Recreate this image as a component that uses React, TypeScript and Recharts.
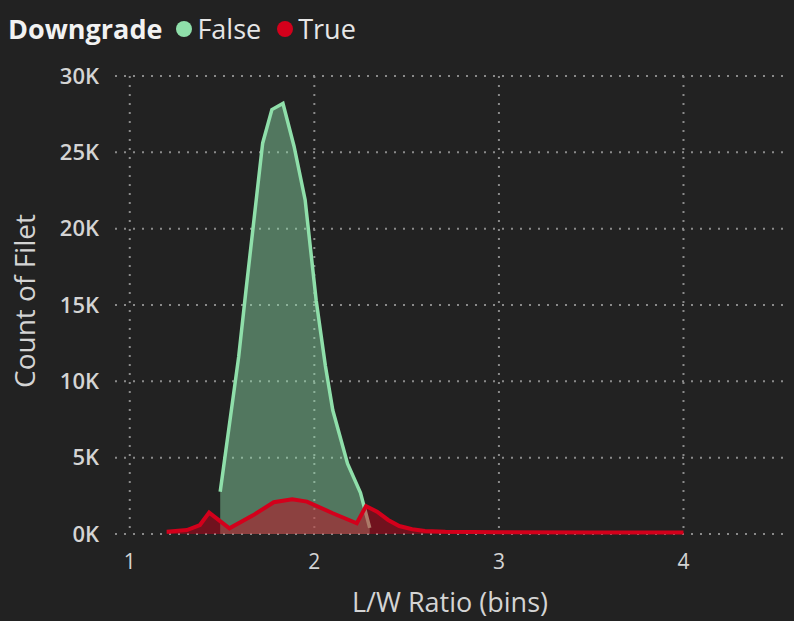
import React from "react";
import { AreaChart, Area, XAxis, YAxis, CartesianGrid } from "recharts";

// L/W ratio bins and counts
const falseX = [1.49, 1.59, 1.63, 1.72, 1.77, 1.83, 1.89, 1.95, 2.01, 2.06, 2.1, 2.18, 2.25, 2.3];
const falseY = [2770, 11600, 16000, 25600, 27800, 28200, 25400, 21900, 15300, 11000, 8100, 4600, 2700, 400];

const trueX = [1.2, 1.31, 1.38, 1.43, 1.54, 1.67, 1.78, 1.88, 1.96, 2.1, 2.23, 2.28, 2.34, 2.4, 2.46, 2.53, 2.6, 2.71, 3.0, 3.5, 4.0];
const trueY = [150, 260, 590, 1400, 370, 1240, 2080, 2270, 2120, 1360, 700, 1830, 1460, 920, 520, 310, 200, 140, 110, 100, 100];

const xTicks = [1, 2, 3, 4];
const yTicks = [0, 5000, 10000, 15000, 20000, 25000, 30000];
const xDomain = [0.92, 4.55];

const GREEN = "#8fdfaa";
const RED = "#d3001b";
const FONT = "'Segoe UI', 'Open Sans', sans-serif";

type Row = { x: number; f?: number; t?: number };

const buildRows = (): Row[] => {
  const map = new Map<number, Row>();
  falseX.forEach((x, i) => {
    const r = map.get(x) || { x };
    r.f = falseY[i];
    map.set(x, r);
  });
  trueX.forEach((x, i) => {
    const r = map.get(x) || { x };
    r.t = trueY[i];
    map.set(x, r);
  });
  return Array.from(map.values()).sort((a, b) => a.x - b.x);
};

const rows = buildRows();

const LegendBar = () => (
  <div
    style={{
      position: "absolute",
      left: 8,
      top: 10,
      display: "flex",
      alignItems: "center",
      fontFamily: FONT,
      fontSize: 27,
      color: "#e6e6e6",
      whiteSpace: "nowrap",
    }}
  >
    <span style={{ fontWeight: 700, color: "#f2f2f2", marginRight: 14 }}>Downgrade</span>
    <span style={{ width: 16, height: 16, borderRadius: 8, background: GREEN, marginRight: 5 }} />
    <span style={{ marginRight: 16 }}>False</span>
    <span style={{ width: 16, height: 16, borderRadius: 8, background: RED, marginRight: 5 }} />
    <span>True</span>
  </div>
);

// vertical grid only at the x ticks, not at the plot edges
const vGrid = ({ offset }: any) =>
  xTicks.map(
    (t) => offset.left + ((t - xDomain[0]) / (xDomain[1] - xDomain[0])) * offset.width
  );

export default function App() {
  return (
    <div
      style={{
        position: "absolute",
        left: 0,
        top: 0,
        width: 794,
        height: 621,
        background: "#222222",
      }}
    >
      <LegendBar />
      <AreaChart
        width={794}
        height={621}
        data={rows}
        margin={{ top: 76, right: 9, bottom: 0, left: 0 }}
      >
        <CartesianGrid
          stroke="#8a8a8a"
          strokeDasharray="2 7"
          strokeWidth={2}
          horizontal
          vertical
          verticalCoordinatesGenerator={vGrid}
        />
        <XAxis
          dataKey="x"
          type="number"
          domain={xDomain}
          ticks={xTicks}
          allowDataOverflow
          axisLine={false}
          tickLine={false}
          tickSize={0}
          tickMargin={20}
          height={87}
          tick={{ fill: "#d4d4d4", fontSize: 21, fontFamily: FONT }}
          label={{
            value: "L/W Ratio (bins)",
            position: "insideBottom",
            offset: 9,
            fill: "#d4d4d4",
            fontSize: 27,
            fontFamily: FONT,
          }}
        />
        <YAxis
          type="number"
          domain={[0, 30000]}
          ticks={yTicks}
          axisLine={false}
          tickLine={false}
          tickSize={0}
          tickMargin={16}
          width={115}
          tickFormatter={(v: number) => `${v / 1000}K`}
          tick={{ fill: "#d4d4d4", fontSize: 22, fontFamily: FONT, fontWeight: 600 }}
          label={{
            value: "Count of Filet",
            angle: -90,
            position: "center",
            dx: -32,
            dy: -4,
            fill: "#d4d4d4",
            fontSize: 28,
            fontFamily: FONT,
          }}
        />
        <Area
          type="linear"
          dataKey="f"
          stroke={GREEN}
          strokeWidth={3.5}
          fill={GREEN}
          fillOpacity={0.45}
          connectNulls
          dot={false}
          activeDot={false}
          isAnimationActive={false}
        />
        <Area
          type="linear"
          dataKey="t"
          stroke={RED}
          strokeWidth={4}
          fill={RED}
          fillOpacity={0.45}
          connectNulls
          dot={false}
          activeDot={false}
          isAnimationActive={false}
        />
      </AreaChart>
    </div>
  );
}
